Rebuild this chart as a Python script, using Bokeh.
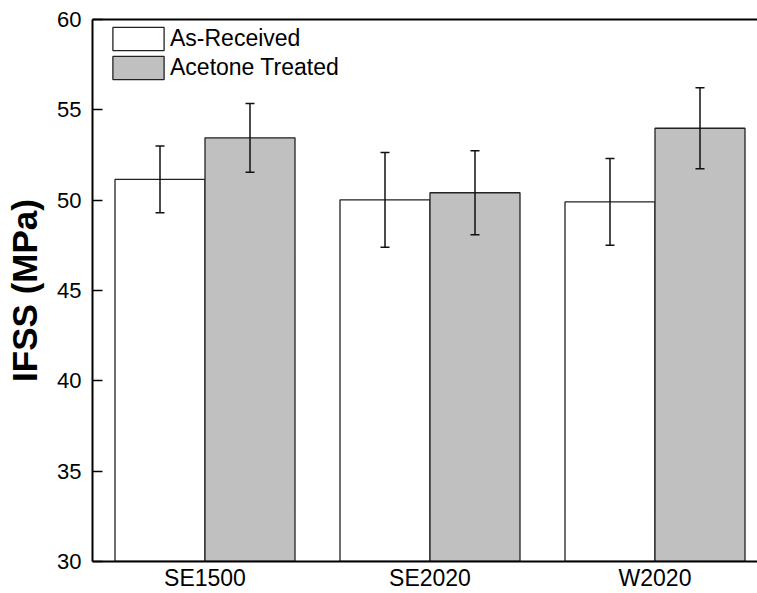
from bokeh.plotting import figure
from bokeh.models import (ColumnDataSource, Whisker, TeeHead, Legend, LegendItem,
                          FixedTicker, LinearAxis, Range1d)
from bokeh.embed import file_html
from bokeh.resources import INLINE

# ---- data ----
categories = ["SE1500", "SE2020", "W2020"]
as_received = [51.15, 50.02, 49.90]
as_received_err = [1.85, 2.62, 2.40]
acetone = [53.45, 50.41, 53.98]
acetone_err = [1.90, 2.32, 2.24]
y_ticks = [30, 35, 40, 45, 50, 55, 60]

FONT = "Liberation Sans"
W, H = 757, 593
BORDER_L, BORDER_T, BORDER_B = 92, 19, 31
frame_h = H - BORDER_T - BORDER_B

pos = [i + 1 for i in range(len(categories))]
bar_w = 0.4
x_ar = [x - bar_w / 2 for x in pos]
x_ac = [x + bar_w / 2 for x in pos]

src_ar = ColumnDataSource(dict(
    x=x_ar, top=as_received,
    upper=[v + e for v, e in zip(as_received, as_received_err)],
    lower=[v - e for v, e in zip(as_received, as_received_err)]))
src_ac = ColumnDataSource(dict(
    x=x_ac, top=acetone,
    upper=[v + e for v, e in zip(acetone, acetone_err)],
    lower=[v - e for v, e in zip(acetone, acetone_err)]))

x_start = 0.5
x_end = x_start + (W - BORDER_L) / 225.0

p = figure(width=W, height=H, output_backend="svg", toolbar_location=None,
           x_range=Range1d(x_start, x_end), y_range=Range1d(30, 60),
           min_border_left=BORDER_L, min_border_right=0,
           min_border_top=BORDER_T, min_border_bottom=BORDER_B)
p.outline_line_color = None
p.xgrid.visible = False
p.ygrid.visible = False
p.background_fill_color = "white"
p.border_fill_color = "white"

r_ar = p.vbar(x="x", top="top", bottom=30, width=bar_w, source=src_ar,
              fill_color="white", line_color="#222222", line_width=1.3)
r_ac = p.vbar(x="x", top="top", bottom=30, width=bar_w, source=src_ac,
              fill_color="#c0c0c0", line_color="#222222", line_width=1.3)

for src in (src_ar, src_ac):
    w = Whisker(base="x", upper="upper", lower="lower", source=src,
                dimension="height", line_color="#111111", line_width=1.5,
                upper_head=TeeHead(size=9, line_color="#111111", line_width=1.5),
                lower_head=TeeHead(size=9, line_color="#111111", line_width=1.5),
                level="overlay")
    p.add_layout(w)

# x axis
xa = p.xaxis[0]
xa.ticker = FixedTicker(ticks=pos)
xa.major_label_overrides = {x: c for x, c in zip(pos, categories)}
xa.major_tick_line_color = None
xa.major_tick_in = 0
xa.major_tick_out = 0
xa.minor_tick_line_color = None
xa.minor_tick_in = 0
xa.minor_tick_out = 0
xa.axis_line_width = 2
xa.axis_line_color = "black"
xa.major_label_text_font = FONT
xa.major_label_text_font_size = "23px"
xa.major_label_text_color = "black"
xa.major_label_standoff = 3

# y axis
ya = p.yaxis[0]
ya.ticker = FixedTicker(ticks=y_ticks)
ya.major_tick_in = 10
ya.major_tick_out = 0
ya.major_tick_line_width = 1.5
ya.major_tick_line_color = "black"
ya.minor_tick_line_color = None
ya.axis_line_width = 2
ya.axis_line_color = "black"
ya.major_label_text_font = FONT
ya.major_label_text_font_size = "22px"
ya.major_label_text_color = "black"
ya.major_label_standoff = 11
ya.axis_label = "IFSS (MPa)"
ya.axis_label_text_font = FONT
ya.axis_label_text_font_size = "35px"
ya.axis_label_text_font_style = "bold"
ya.axis_label_text_color = "black"
ya.axis_label_standoff = 10

# top border line
top = LinearAxis(ticker=FixedTicker(ticks=[]), axis_line_width=2,
                 axis_line_color="black", major_tick_line_color=None,
                 minor_tick_line_color=None)
p.add_layout(top, "above")

# legend
glyph_h = 29
legend = Legend(items=[LegendItem(label="As-Received", renderers=[r_ar]),
                       LegendItem(label="Acetone Treated", renderers=[r_ac])],
                glyph_width=64, glyph_height=glyph_h, padding=0, margin=0,
                spacing=0, label_standoff=0, label_height=0,
                border_line_color=None, background_fill_alpha=0,
                label_text_font=FONT, label_text_font_size="23px",
                label_text_line_height=0.9,
                label_text_color="black")
legend_h = 2 * glyph_h
legend.location = (14, frame_h - 6 - legend_h)
p.add_layout(legend)

open("out.html", "w").write(file_html(p, INLINE))
